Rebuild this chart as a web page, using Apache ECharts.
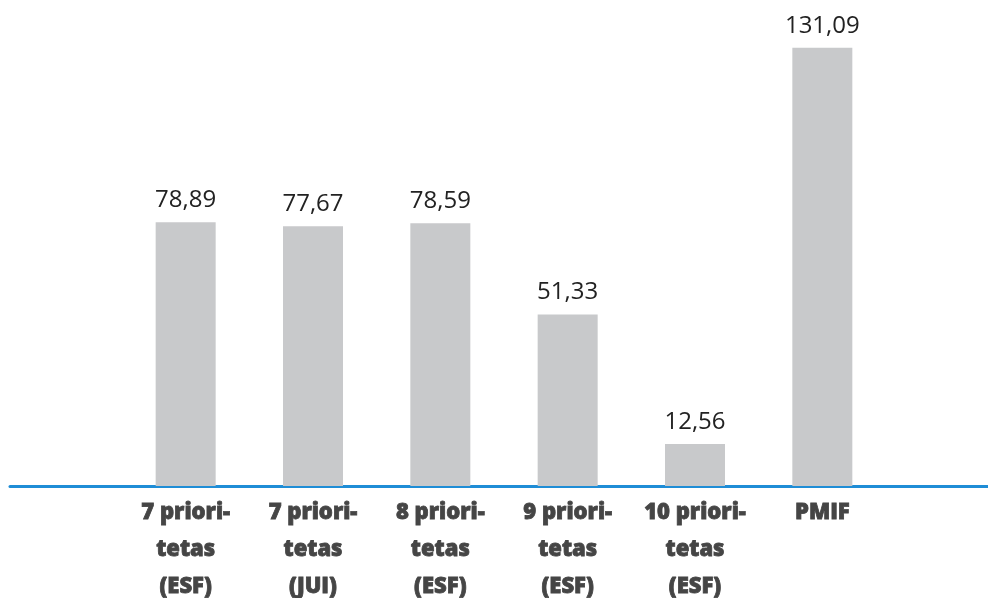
<!DOCTYPE html>
<html>
<head>
<meta charset="utf-8">
<script src="https://cdn.jsdelivr.net/npm/echarts@6/dist/echarts.min.js"></script>
<style>
  html, body { margin: 0; padding: 0; background: #fff; }
  #chart { width: 988px; height: 598px; }
</style>
</head>
<body>
<div id="chart"></div>
<script>
// categories and values
var categories = [
  '7 priori-\ntetas\n(ESF)',
  '7 priori-\ntetas\n(JUI)',
  '8 priori-\ntetas\n(ESF)',
  '9 priori-\ntetas\n(ESF)',
  '10 priori-\ntetas\n(ESF)',
  'PMIF'
]
var values = [78.89, 77.67, 78.59, 51.33, 12.56, 131.09]

var chart = echarts.init(document.getElementById('chart'))

var option = {
  animation: false,
  grid: [
    // bars
    { left: 122, right: 102, top: 18, bottom: 112, outerBoundsMode: 'none', containLabel: false },
    // only for the long blue base line
    { left: 10, right: 0, top: 18, bottom: 112, outerBoundsMode: 'none', containLabel: false }
  ],
  xAxis: [
    {
      type: 'category',
      gridIndex: 0,
      data: categories,
      axisLine: { show: false },
      axisTick: { show: false },
      axisLabel: {
        interval: 0,
        margin: 8,
        color: '#454545',
        fontFamily: 'Open Sans',
        fontWeight: 800,
        fontSize: 22,
        lineHeight: 37,
        textBorderColor: '#454545',
        textBorderWidth: 0.8
      }
    },
    {
      type: 'value',
      gridIndex: 1,
      min: 0,
      max: 1,
      axisLine: { show: true, lineStyle: { color: '#1f8dd6', width: 3 } },
      axisTick: { show: false },
      axisLabel: { show: false },
      splitLine: { show: false }
    }
  ],
  yAxis: [
    {
      type: 'value',
      gridIndex: 0,
      min: 0,
      max: 140,
      show: false
    },
    {
      type: 'value',
      gridIndex: 1,
      min: 0,
      max: 140,
      show: false
    }
  ],
  series: [
    {
      type: 'bar',
      xAxisIndex: 0,
      yAxisIndex: 0,
      barWidth: 60,
      data: values,
      itemStyle: { color: '#c8c9cb' },
      label: {
        show: true,
        position: 'top',
        distance: 10,
        color: '#222',
        fontFamily: 'Open Sans',
        fontWeight: 400,
        fontSize: 24,
        formatter: function(p) {
          return p.value.toFixed(2).replace('.', ',')
        }
      }
    }
  ]
}

chart.setOption(option)
</script>
</body>
</html>
